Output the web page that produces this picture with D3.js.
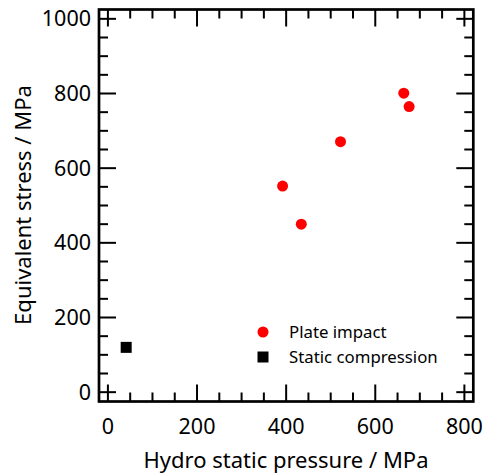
<!DOCTYPE html>
<html>
<head>
<meta charset="utf-8">
<script src="https://cdn.jsdelivr.net/npm/d3@7"></script>
<style>
  body { margin: 0; background: #fff; }
  svg { font-family: 'Noto Sans', sans-serif; }
</style>
</head>
<body>
<div id="chart"></div>
<script>
// data
const plateX = [392, 434, 522, 664, 676];
const plateY = [552, 450, 671, 801, 765];
const staticX = [41];
const staticY = [120];
const xTicks = [0, 200, 400, 600, 800];
const yTicks = [0, 200, 400, 600, 800, 1000];
const legendNames = ['Plate impact', 'Static compression'];

const width = 484, height = 473;
const mLeft = 99, mRight = 473.3, mTop = 9.5, mBottom = 401.5;

const svg = d3.select('#chart').append('svg')
  .attr('width', width).attr('height', height);

const x = d3.scaleLinear().domain([-20, 820]).range([mLeft, mRight]);
const y = d3.scaleLinear().domain([-25, 1025]).range([mBottom, mTop]);

const minorX = d3.range(0, 801, 50);
const minorY = d3.range(0, 1001, 50);

// ticks, inward on all four sides
const ticks = svg.append('g').attr('stroke', '#000').attr('stroke-width', 2);
minorX.forEach(v => {
  const len = v % 200 === 0 ? 17 : 9;
  ticks.append('line').attr('x1', x(v)).attr('x2', x(v)).attr('y1', mBottom).attr('y2', mBottom - len);
  ticks.append('line').attr('x1', x(v)).attr('x2', x(v)).attr('y1', mTop).attr('y2', mTop + len);
});
minorY.forEach(v => {
  const len = v % 200 === 0 ? 17 : 9;
  ticks.append('line').attr('y1', y(v)).attr('y2', y(v)).attr('x1', mLeft).attr('x2', mLeft + len);
  ticks.append('line').attr('y1', y(v)).attr('y2', y(v)).attr('x1', mRight).attr('x2', mRight - len);
});

// frame
svg.append('rect')
  .attr('x', mLeft).attr('y', mTop)
  .attr('width', mRight - mLeft).attr('height', mBottom - mTop)
  .attr('fill', 'none').attr('stroke', '#000').attr('stroke-width', 2.7);

// tick labels
svg.append('g').selectAll('text').data(xTicks).join('text')
  .attr('x', d => x(d)).attr('y', 434)
  .attr('text-anchor', 'middle').attr('font-size', '21.5px')
  .text(d => d);
svg.append('g').selectAll('text').data(yTicks).join('text')
  .attr('x', 91).attr('y', d => y(d) + 7.5)
  .attr('text-anchor', 'end').attr('font-size', '21.5px')
  .text(d => d);

// axis titles
svg.append('text').attr('x', 286).attr('y', 468)
  .attr('text-anchor', 'middle').attr('font-size', '22px')
  .text('Hydro static pressure / MPa');
svg.append('text')
  .attr('transform', 'translate(31, 205) rotate(-90)')
  .attr('text-anchor', 'middle').attr('font-size', '22px')
  .text('Equivalent stress / MPa');

// points
const plate = plateX.map((v, i) => ({x: v, y: plateY[i]}));
const stat = staticX.map((v, i) => ({x: v, y: staticY[i]}));

svg.append('g').selectAll('circle').data(plate).join('circle')
  .attr('cx', d => x(d.x)).attr('cy', d => y(d.y))
  .attr('r', 5.5).attr('fill', '#ff0000');
svg.append('g').selectAll('rect').data(stat).join('rect')
  .attr('x', d => x(d.x) - 5.5).attr('y', d => y(d.y) - 5.5)
  .attr('width', 11).attr('height', 11).attr('fill', '#000');

// legend
const legend = svg.append('g').attr('transform', 'translate(263, 332)');
legend.append('circle').attr('cx', 0).attr('cy', 0).attr('r', 5.5).attr('fill', '#ff0000');
legend.append('rect').attr('x', -5.5).attr('y', 25 - 5.5).attr('width', 11).attr('height', 11).attr('fill', '#000');
legendNames.forEach((n, i) => {
  legend.append('text').attr('x', 26).attr('y', i * 25 + 6)
    .attr('font-size', '16.8px').text(n);
});
</script>
</body>
</html>
